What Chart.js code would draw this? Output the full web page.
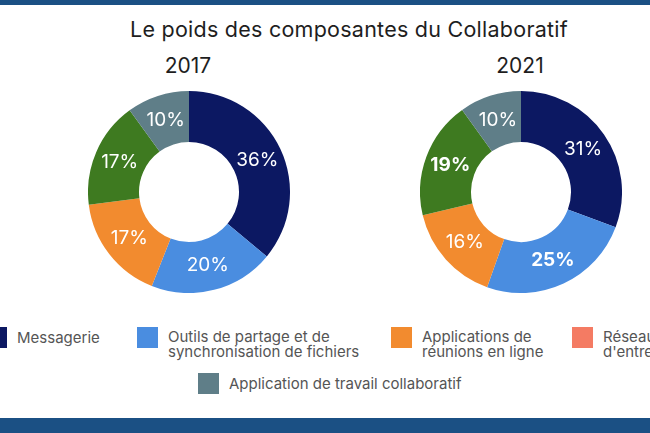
<!DOCTYPE html>
<html>
<head>
<meta charset="utf-8">
<script src="https://cdn.jsdelivr.net/npm/chart.js@4/dist/chart.umd.min.js"></script>
<style>
  html, body { margin: 0; padding: 0; background: #ffffff; }
  #page { position: relative; width: 650px; height: 433px; overflow: hidden; background: #ffffff; font-family: Inter, "Open Sans", sans-serif; }
  .bar { position: absolute; left: 0; width: 650px; background: #1b5084; }
  #title { position: absolute; left: 49px; width: 600px; top: 16px; text-align: center; font-size: 21.5px; color: #1e1e1e; font-weight: 400; letter-spacing: 0.25px; }
  .year { position: absolute; width: 120px; text-align: center; font-size: 21px; color: #1e1e1e; font-weight: 400; top: 53px; }
  canvas.donut { position: absolute; }
  .lg { position: absolute; }
  .sw { position: absolute; left: 0; top: 0; width: 21px; height: 21px; }
  .lt { position: absolute; left: 31px; font-size: 15px; line-height: 15px; color: #555555; white-space: nowrap; }
</style>
</head>
<body>
<div id="page">
  <div class="bar" style="top:0;height:5px;"></div>
  <div class="bar" style="top:418px;height:15px;"></div>
  <div id="title"></div>
  <div class="year" id="y0" style="left:128px;"></div>
  <div class="year" id="y1" style="left:460px;"></div>
  <canvas class="donut" id="c0" width="202" height="202" style="left:88px;top:91px;"></canvas>
  <canvas class="donut" id="c1" width="202" height="202" style="left:420px;top:91px;"></canvas>
  <div id="legend"></div>
</div>
<script>
// ---- data ----
const chartTitle = "Le poids des composantes du Collaboratif";
const years = ["2017", "2021"];
const categories = [
  "Messagerie",
  "Outils de partage et de synchronisation de fichiers",
  "Applications de réunions en ligne",
  "Réseaux sociaux d'entreprise",
  "Application de travail collaboratif"
];
const values2017 = [36, 20, 17, 17, 10];
const values2021 = [31, 25, 16, 19, 10];
const legendLines = [
  ["Messagerie"],
  ["Outils de partage et de", "synchronisation de fichiers"],
  ["Applications de", "réunions en ligne"],
  ["Réseaux sociaux", "d'entreprise"],
  ["Application de travail collaboratif"]
];

// ---- styles ----
const sliceColors = ["#0c1862", "#4a8de0", "#f28b2f", "#3e7a20", "#5f7e88"];
const legendColors = ["#0c1862", "#4a8de0", "#f28b2f", "#f47b63", "#5f7e88"];
const boldLabels = [[false, false, false, false, false], [false, true, false, true, false]];
const legendPos = [
  { x: -14, y: 327 }, { x: 137, y: 327 }, { x: 391, y: 327 }, { x: 572, y: 327 }, { x: 198, y: 373 }
];

document.getElementById('title').textContent = chartTitle;
document.getElementById('y0').textContent = years[0];
document.getElementById('y1').textContent = years[1];

const lg = document.getElementById('legend');
categories.forEach((c, i) => {
  const d = document.createElement('div');
  d.className = 'lg';
  d.style.left = legendPos[i].x + 'px';
  d.style.top = legendPos[i].y + 'px';
  const s = document.createElement('div');
  s.className = 'sw';
  s.style.background = legendColors[i];
  const t = document.createElement('div');
  t.className = 'lt';
  t.style.top = (legendLines[i].length > 1 ? 2 : 3) + 'px';
  t.innerHTML = legendLines[i].map(l => l.replace(/&/g,'&amp;').replace(/</g,'&lt;')).join('<br>');
  d.appendChild(s); d.appendChild(t);
  lg.appendChild(d);
});

const labelPlugin = {
  id: 'sliceLabels',
  afterDatasetsDraw(chart) {
    const ctx = chart.ctx;
    const meta = chart.getDatasetMeta(0);
    const ds = chart.data.datasets[0];
    const bolds = chart.options.plugins.sliceLabels.bold;
    ctx.save();
    ctx.fillStyle = '#ffffff';
    ctx.textAlign = 'center';
    ctx.textBaseline = 'middle';
    meta.data.forEach((arc, i) => {
      const p = arc.tooltipPosition();
      ctx.font = (bolds[i] ? '700 ' : '400 ') + '19px Inter, "Open Sans", sans-serif';
      ctx.fillText(ds.data[i] + '%', p.x, p.y);
    });
    ctx.restore();
  }
};

function makeDonut(id, values, bolds) {
  return new Chart(document.getElementById(id), {
    type: 'doughnut',
    data: {
      labels: categories,
      datasets: [{ data: values, backgroundColor: sliceColors, borderWidth: 0 }]
    },
    options: {
      responsive: false,
      animation: false,
      devicePixelRatio: 1,
      cutout: '49.5%',
      layout: { padding: 0 },
      plugins: {
        legend: { display: false },
        tooltip: { enabled: false },
        sliceLabels: { bold: bolds }
      }
    },
    plugins: [labelPlugin]
  });
}
makeDonut('c0', values2017, boldLabels[0]);
makeDonut('c1', values2021, boldLabels[1]);
</script>
</body>
</html>
